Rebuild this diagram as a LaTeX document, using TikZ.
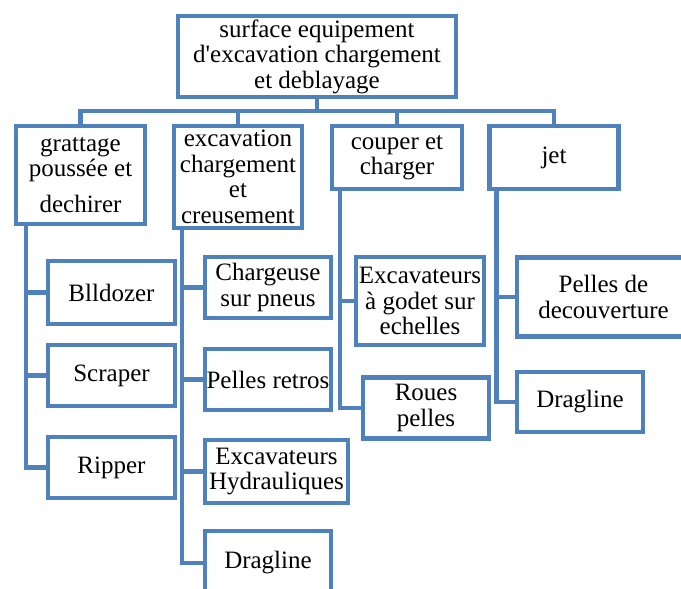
\documentclass[tikz,border=0pt]{standalone}
\usepackage{fontspec}
\setmainfont{Liberation Serif}
\newfontfamily\plainq{Liberation Serif}[Mapping=]
\definecolor{bl}{RGB}{79,129,189}
\begin{document}
\begin{tikzpicture}[x=1pt,y=-1pt,
  box/.style={draw=bl,line width=4.5pt,fill=white,inner sep=0pt,align=center,
    font=\rmfamily\fontsize{25}{25.5}\selectfont},
  link/.style={draw=bl,line width=4.5pt,line join=miter}]
\useasboundingbox (0,0) rectangle (681,589);
\clip (0,0) rectangle (681,589);
\coordinate (bus) at (317,111);
% level 1 and 2 boxes
\node[box,minimum width=278pt,minimum height=81pt] (root) at (317,56.5) {surface equipement\\d{\plainq '}excavation chargement\\et deblayage};
\node[box,minimum width=129pt,minimum height=98pt] (g) at (80.5,175) {grattage\\poussée et\\[10pt]dechirer};
\node[box,minimum width=128pt,minimum height=102pt] (e) at (238,177) {excavation\\chargement\\et\\creusement};
\node[box,minimum width=130pt,minimum height=63pt] (c) at (397,157.5) {couper et\\charger};
\node[box,minimum width=129pt,minimum height=63pt] (j) at (554,157.5) {jet};
% level 3 boxes
\node[box,minimum width=127pt,minimum height=63pt] (bll) at (111.5,292.5) {Blldozer};
\node[box,minimum width=127pt,minimum height=61pt] (scr) at (111.5,375.5) {Scraper};
\node[box,minimum width=127pt,minimum height=61pt] (rip) at (111.5,467.5) {Ripper};
\node[box,minimum width=126pt,minimum height=61pt] (chg) at (268,287.5) {Chargeuse\\sur pneus};
\node[box,minimum width=126pt,minimum height=61pt] (pr) at (268,379.5) {Pelles retros};
\node[box,minimum width=143pt,minimum height=63pt] (eh) at (276.5,471.5) {Excavateurs\\Hydrauliques};
\node[box,minimum width=126pt,minimum height=64pt] (dr1) at (268,563) {Dragline};
\node[box,minimum width=128pt,minimum height=88pt] (aeg) at (420,301) {Excavateurs\\à godet sur\\echelles};
\node[box,minimum width=126pt,minimum height=61pt] (rp) at (426,408) {Roues\\pelles};
\node[box,minimum width=173pt,minimum height=79pt] (pdd) at (603.5,297) {Pelles de\\decouverture};
\node[box,minimum width=126pt,minimum height=60pt] (dr2) at (580,402) {Dragline};
% trunks
\coordinate (gt) at ([xshift=12pt]g.south west);
\coordinate (et) at ([xshift=10pt]e.south west);
\coordinate (ct) at ([xshift=10pt]c.south west);
\coordinate (jt) at ([xshift=9pt]j.south west);
\draw[link] (root.south) -- (bus);
\draw[link] (g.north) |- (bus) -| (j.north);
\draw[link] (e.north) -- (e.north |- bus);
\draw[link] (c.north) -- (c.north |- bus);
\draw[link] (gt) |- (rip.west);
\draw[link] (gt |- bll.west) -- (bll.west);
\draw[link] (gt |- scr.west) -- (scr.west);
\draw[link] (et) |- (dr1.west);
\draw[link] (et |- chg.west) -- (chg.west);
\draw[link] (et |- pr.west) -- (pr.west);
\draw[link] (et |- eh.west) -- (eh.west);
\draw[link] (ct) |- (rp.west);
\draw[link] (ct |- aeg.west) -- (aeg.west);
\draw[link] (jt) |- (dr2.west);
\draw[link] (jt |- pdd.west) -- (pdd.west);
\end{tikzpicture}
\end{document}
